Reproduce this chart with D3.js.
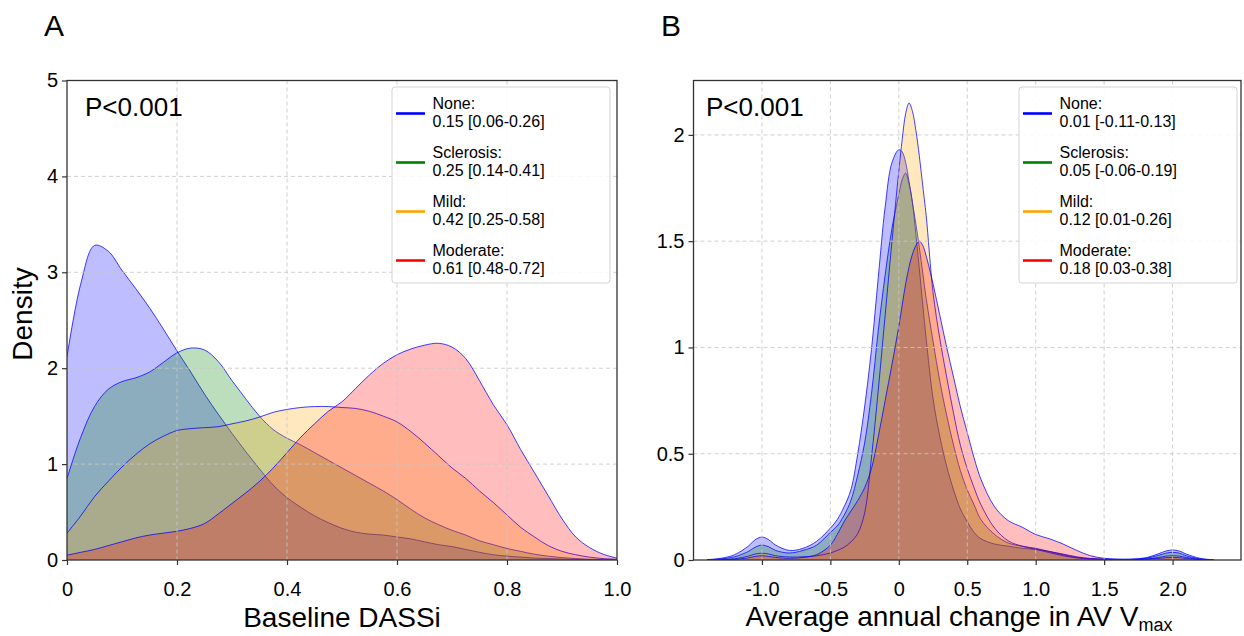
<!DOCTYPE html>
<html><head><meta charset="utf-8">
<script src="https://cdn.jsdelivr.net/npm/d3@7"></script>
<style>
body{margin:0;background:#fff}
svg{display:block;font-family:"Liberation Sans",Arial,Helvetica,sans-serif}
</style>
</head><body>
<svg id="c" width="1244" height="636"></svg>
<script>
// ---------- data ----------
const groups = ["None", "Sclerosis", "Mild", "Moderate"];
const groupColors = ["#0000ff", "#008000", "#ffa500", "#ff0000"];

const legendA = ["0.15 [0.06-0.26]", "0.25 [0.14-0.41]", "0.42 [0.25-0.58]", "0.61 [0.48-0.72]"];
const legendB = ["0.01 [-0.11-0.13]", "0.05 [-0.06-0.19]", "0.12 [0.01-0.26]", "0.18 [0.03-0.38]"];

// Panel A: Baseline DASSi density
const xA = [0,0.025,0.05,0.075,0.1,0.125,0.15,0.175,0.2,0.225,0.25,0.275,0.3,0.325,0.35,0.375,0.4,0.425,0.45,0.475,0.5,
            0.525,0.55,0.575,0.6,0.625,0.65,0.675,0.7,0.725,0.75,0.775,0.8,0.825,0.85,0.875,0.9,0.925,0.95,0.975,1.0];
const noneA = [2.12,2.88,3.28,3.22,3.02,2.83,2.63,2.41,2.18,1.96,1.73,1.52,1.32,1.13,0.95,0.78,0.65,0.55,0.46,0.39,0.33,
               0.29,0.27,0.26,0.24,0.22,0.19,0.16,0.14,0.11,0.08,0.055,0.04,0.03,0.02,0.015,0.01,0.006,0.004,0.002,0.001];
const sclerosisA = [0.85,1.28,1.60,1.78,1.86,1.90,1.96,2.06,2.16,2.21,2.19,2.07,1.87,1.68,1.50,1.36,1.27,1.20,1.12,1.04,0.96,
                    0.88,0.80,0.72,0.63,0.53,0.44,0.37,0.31,0.26,0.20,0.16,0.12,0.09,0.06,0.04,0.025,0.015,0.008,0.004,0.002];
const mildA = [0.28,0.46,0.66,0.82,0.97,1.10,1.21,1.29,1.35,1.37,1.38,1.39,1.42,1.45,1.49,1.54,1.57,1.59,1.60,1.60,1.59,
               1.58,1.55,1.50,1.44,1.34,1.22,1.09,0.96,0.85,0.72,0.60,0.47,0.34,0.24,0.15,0.09,0.055,0.03,0.015,0.008];
const moderateA = [0.05,0.08,0.11,0.15,0.19,0.23,0.26,0.28,0.30,0.33,0.38,0.48,0.59,0.70,0.82,0.96,1.12,1.28,1.42,1.55,1.65,
                   1.79,1.93,2.05,2.14,2.20,2.24,2.26,2.22,2.10,1.87,1.62,1.41,1.15,0.91,0.67,0.43,0.24,0.13,0.06,0.02];

// Panel B: average annual change in AV Vmax density
const xB = [-1.4,-1.3,-1.2,-1.1,-1.05,-1.0,-0.95,-0.9,-0.8,-0.7,-0.6,-0.5,-0.45,-0.4,-0.35,-0.3,-0.25,-0.2,-0.15,-0.1,
            -0.05,0,0.025,0.05,0.075,0.1,0.125,0.15,0.175,0.2,0.25,0.3,0.35,0.4,0.45,0.5,0.55,0.6,0.7,0.8,
            0.9,1.0,1.1,1.2,1.3,1.4,1.5,1.6,1.7,1.8,1.9,1.95,2.0,2.05,2.1,2.2,2.3];
const noneB = [0.002,0.008,0.025,0.065,0.095,0.108,0.095,0.07,0.045,0.055,0.088,0.15,0.19,0.25,0.33,0.50,0.72,0.99,1.33,1.66,
               1.87,1.93,1.92,1.87,1.78,1.68,1.53,1.37,1.20,1.04,0.76,0.58,0.44,0.33,0.24,0.18,0.13,0.10,0.075,0.065,
               0.055,0.05,0.04,0.028,0.015,0.007,0.004,0.003,0.004,0.01,0.03,0.042,0.047,0.042,0.028,0.008,0.001];
const sclerosisB = [0.001,0.005,0.015,0.04,0.06,0.07,0.062,0.045,0.033,0.045,0.07,0.13,0.16,0.21,0.28,0.40,0.55,0.78,1.08,1.34,
                    1.56,1.72,1.79,1.82,1.77,1.68,1.58,1.47,1.35,1.23,1.03,0.84,0.68,0.54,0.42,0.33,0.26,0.19,0.12,0.08,
                    0.065,0.055,0.04,0.025,0.012,0.006,0.003,0.002,0.003,0.008,0.022,0.032,0.036,0.032,0.02,0.005,0.001];
const mildB = [0,0.002,0.006,0.018,0.028,0.032,0.028,0.02,0.014,0.015,0.02,0.033,0.045,0.06,0.085,0.125,0.22,0.48,0.80,1.15,
               1.50,1.83,1.98,2.10,2.15,2.11,2.02,1.90,1.76,1.62,1.26,1.04,0.86,0.69,0.54,0.43,0.34,0.26,0.15,0.09,
               0.065,0.05,0.035,0.02,0.01,0.005,0.003,0.002,0.002,0.004,0.012,0.018,0.02,0.018,0.012,0.003,0];
const moderateB = [0,0.001,0.003,0.01,0.017,0.02,0.017,0.012,0.008,0.012,0.025,0.07,0.12,0.18,0.23,0.28,0.34,0.43,0.58,0.75,
                   0.92,1.10,1.20,1.30,1.38,1.44,1.48,1.50,1.48,1.43,1.30,1.15,1.00,0.86,0.72,0.60,0.48,0.38,0.25,0.185,
                   0.155,0.12,0.10,0.075,0.045,0.02,0.008,0.004,0.003,0.004,0.008,0.011,0.012,0.011,0.007,0.002,0];

// ticks
const xTicksA = [0, 0.2, 0.4, 0.6, 0.8, 1.0];
const xTickLabelsA = ["0", "0.2", "0.4", "0.6", "0.8", "1.0"];
const yTicksA = [0, 1, 2, 3, 4, 5];
const yTickLabelsA = ["0", "1", "2", "3", "4", "5"];
const xTicksB = [-1.0, -0.5, 0, 0.5, 1.0, 1.5, 2.0];
const xTickLabelsB = ["-1.0", "-0.5", "0", "0.5", "1.0", "1.5", "2.0"];
const yTicksB = [0, 0.5, 1, 1.5, 2];
const yTickLabelsB = ["0", "0.5", "1", "1.5", "2"];

// ---------- drawing ----------
const svg = d3.select("#c");
svg.append("rect").attr("width", 1244).attr("height", 636).attr("fill", "#fff");

function panel(cfg) {
  const g = svg.append("g");
  const x = d3.scaleLinear().domain(cfg.xDomain).range([cfg.left, cfg.right]);
  const y = d3.scaleLinear().domain(cfg.yDomain).range([cfg.bottom, cfg.top]);
  const clipId = "clip" + cfg.id;
  svg.append("defs").append("clipPath").attr("id", clipId)
    .append("rect").attr("x", cfg.left).attr("y", cfg.top)
    .attr("width", cfg.right - cfg.left).attr("height", cfg.bottom - cfg.top);

  const plot = g.append("g").attr("clip-path", `url(#${clipId})`);
  const curve = d3.curveCatmullRom.alpha(0.5);
  cfg.series.forEach((vals, i) => {
    const pts = cfg.xs.map((xv, j) => [xv, Math.max(0, vals[j])]);
    const area = d3.area().x(d => x(d[0])).y0(y(0)).y1(d => y(d[1])).curve(curve);
    const line = d3.line().x(d => x(d[0])).y(d => y(d[1])).curve(curve);
    plot.append("path").attr("d", area(pts))
      .attr("fill", groupColors[i]).attr("fill-opacity", 0.26).attr("stroke", "none");
    plot.append("path").attr("d", line(pts))
      .attr("fill", "none").attr("stroke", "#0000ff").attr("stroke-opacity", 0.75).attr("stroke-width", 1);
  });

  // grid (drawn above fills)
  const grid = g.append("g").attr("stroke", "#c8c8c8").attr("stroke-width", 1)
    .attr("stroke-dasharray", "4,3").attr("stroke-opacity", 0.85);
  cfg.xTicks.forEach(t => {
    const px = x(t);
    if (Math.abs(px - cfg.left) > 2 && Math.abs(px - cfg.right) > 2)
      grid.append("line").attr("x1", px).attr("x2", px).attr("y1", cfg.top).attr("y2", cfg.bottom);
  });
  cfg.yTicks.forEach(t => {
    const py = y(t);
    if (Math.abs(py - cfg.top) > 2 && Math.abs(py - cfg.bottom) > 2)
      grid.append("line").attr("x1", cfg.left).attr("x2", cfg.right).attr("y1", py).attr("y2", py);
  });

  // axes
  const xAxis = d3.axisBottom(x).tickValues(cfg.xTicks)
    .tickFormat((d, i) => cfg.xTickLabels[i]).tickSize(5).tickPadding(17);
  const yAxis = d3.axisLeft(y).tickValues(cfg.yTicks)
    .tickFormat((d, i) => cfg.yTickLabels[i]).tickSize(5).tickPadding(4);
  const xa = g.append("g").attr("transform", `translate(0,${cfg.bottom})`).call(xAxis);
  const ya = g.append("g").attr("transform", `translate(${cfg.left},0)`).call(yAxis);
  [xa, ya].forEach(a => {
    a.select(".domain").remove();
    a.selectAll("line").attr("stroke", "#333").attr("stroke-width", 1.2);
    a.selectAll("text").attr("font-size", 20).attr("fill", "#000")
      .attr("font-family", "'Liberation Sans', Arial, sans-serif");
  });

  // frame
  g.append("rect").attr("x", cfg.left).attr("y", cfg.top)
    .attr("width", cfg.right - cfg.left).attr("height", cfg.bottom - cfg.top)
    .attr("fill", "none").attr("stroke", "#333").attr("stroke-width", 1.3);

  // P value
  g.append("text").attr("x", cfg.pX).attr("y", 116).attr("font-size", 26).attr("fill", "#000").text("P<0.001");

  // legend
  const L = cfg.legendX, T = 87;
  g.append("rect").attr("x", L).attr("y", T).attr("width", 218).attr("height", 196)
    .attr("rx", 3).attr("fill", "#fff").attr("fill-opacity", 0.85)
    .attr("stroke", "#d4d4d4").attr("stroke-width", 1);
  groups.forEach((name, i) => {
    const hy = 113.5 + i * 49;
    g.append("line").attr("x1", L + 4).attr("x2", L + 33).attr("y1", hy).attr("y2", hy)
      .attr("stroke", groupColors[i]).attr("stroke-width", 2.6);
    g.append("text").attr("x", L + 40.5).attr("y", hy - 5).attr("font-size", 16).attr("fill", "#000").text(name + ":");
    g.append("text").attr("x", L + 40.5).attr("y", hy + 13.8).attr("font-size", 16).attr("fill", "#000").text(cfg.legendTexts[i]);
  });

  // panel title
  g.append("text").attr("x", cfg.titleX).attr("y", 36).attr("font-size", 30).attr("fill", "#000").text(cfg.title);
  return {x, y, g};
}

const A = panel({
  id: "A", left: 67, right: 617, top: 80.5, bottom: 560,
  xDomain: [0, 1], yDomain: [0, 5],
  xs: xA, series: [noneA, sclerosisA, mildA, moderateA],
  xTicks: xTicksA, xTickLabels: xTickLabelsA, yTicks: yTicksA, yTickLabels: yTickLabelsA,
  legendTexts: legendA, legendX: 392, pX: 85, title: "A", titleX: 44
});
A.g.append("text").attr("x", (67 + 617) / 2).attr("y", 627).attr("text-anchor", "middle")
  .attr("font-size", 28).attr("fill", "#000").text("Baseline DASSi");
A.g.append("text").attr("transform", "translate(32,314) rotate(-90)").attr("text-anchor", "middle")
  .attr("font-size", 28).attr("fill", "#000").text("Density");

const B = panel({
  id: "B", left: 693.5, right: 1241, top: 80.5, bottom: 560,
  xDomain: [-1.5, 2.5], yDomain: [0, 2.256],
  xs: xB, series: [noneB, sclerosisB, mildB, moderateB],
  xTicks: xTicksB, xTickLabels: xTickLabelsB, yTicks: yTicksB, yTickLabels: yTickLabelsB,
  legendTexts: legendB, legendX: 1019, pX: 706, title: "B", titleX: 661
});
const bl = B.g.append("text").attr("x", 959).attr("y", 626).attr("text-anchor", "middle")
  .attr("font-size", 28).attr("fill", "#000");
bl.append("tspan").text("Average annual change in AV V");
bl.append("tspan").attr("font-size", 18).attr("dy", 5).text("max");
</script>
</body></html>
